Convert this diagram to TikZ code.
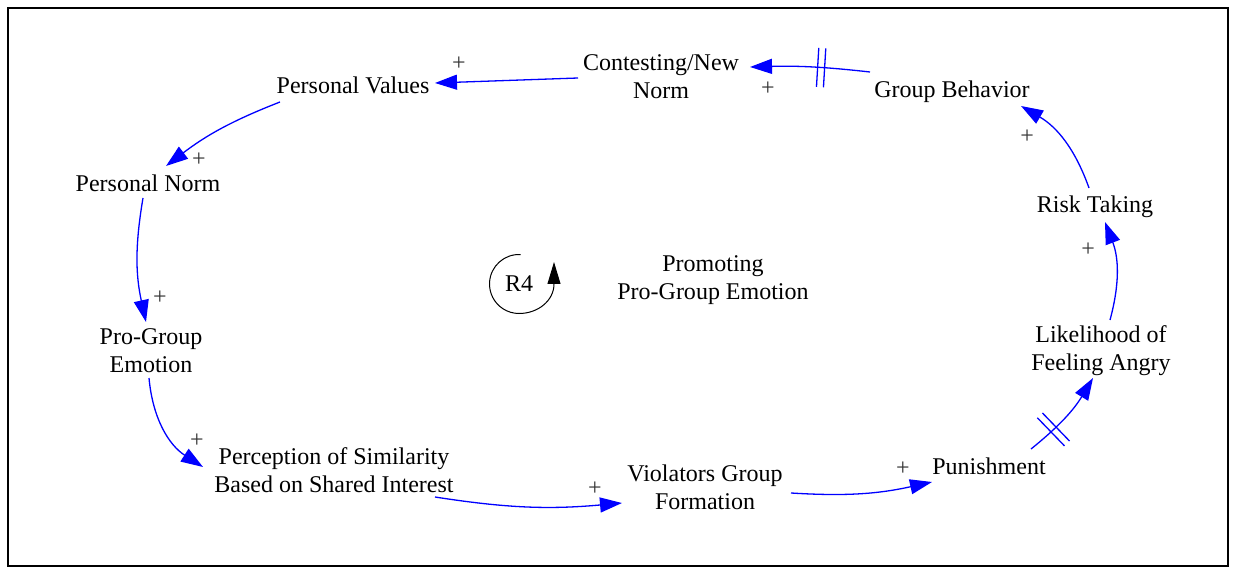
\documentclass[tikz,border=0pt]{standalone}
\usepackage{fontspec}
\setmainfont{Liberation Serif}
\usetikzlibrary{arrows.meta}
\begin{document}
\begin{tikzpicture}[x=0.5pt,y=-0.5pt,
  var/.style={font=\fontsize{12}{14}\selectfont, align=center, inner sep=0pt},
  link/.style={draw=blue, line width=0.65pt, -{Triangle[length=11pt,width=7.5pt]}},
  pol/.style={font=\fontsize{12}{14}\selectfont, text=black!80, inner sep=0pt},
  delaybox/.style={sloped, draw=none, minimum width=3.5pt, minimum height=19.5pt,
    inner sep=0pt, outer sep=0pt},
  delaymark/.style={draw=blue, line width=0.65pt}]
\useasboundingbox (0,0) rectangle (1235,571);
\draw[line width=1pt] (8,8) rectangle (1228,566);

% variables
\node[var] (cn) at (661,77) {Contesting/New\\Norm};
\node[var] (pv) at (353,85) {Personal Values};
\node[var] (gb) at (952,92) {Group Behavior};
\node[var] (pn) at (148,183) {Personal Norm};
\node[var] (rt) at (1095,207) {Risk Taking};
\node[var] (pg) at (151,351) {Pro-Group\\Emotion};
\node[var] (la) at (1101,351) {Likelihood of\\Feeling Angry};
\node[var] (pe) at (334,470) {Perception of Similarity\\Based on Shared Interest};
\node[var] (vg) at (705,487) {Violators Group\\Formation};
\node[var] (pu) at (989,466) {Punishment};

% loop identifier
\node[var] (r4) at (519,284) {R4};
\node[var] (promo) at (713,280) {Promoting\\Pro-Group Emotion};
\draw[line width=0.5pt, -{Triangle[length=11pt,width=6.5pt]}]
  ([shift={(273:29.5)}]r4.center) arc[start angle=273, end angle=90, radius=29.5]
  arc[start angle=90, end angle=0, x radius=35, y radius=29.5] -- ++(0,-22);

% causal links
\draw[link] ([shift={(-82,-20)}]gb.center) to[bend right=4]
  node[delaybox, pos=0.4] (d1) {} ([shift={(89,-10)}]cn.center);
\draw[link] ([shift={(-83,1)}]cn.center) -- ([shift={(82,-2)}]pv.center);
\draw[link] ([shift={(-73,17)}]pv.center) to[bend right=8] ([shift={(18,-17)}]pn.center);
\draw[link] ([shift={(-5,15)}]pn.center) to[bend right=11] ([shift={(-5,-29)}]pg.center);
\draw[link] ([shift={(-2,27)}]pg.center) to[bend right=26] ([shift={(-131,-3)}]pe.center);
\draw[link] ([shift={(101,27)}]pe.center) to[bend right=7] ([shift={(-83,16)}]vg.center);
\draw[link] ([shift={(86,6)}]vg.center) to[bend right=8] ([shift={(-57,16)}]pu.center);
\draw[link] ([shift={(42,-17)}]pu.center) to[bend right=10]
  node[delaybox, pos=0.3] (d2) {} ([shift={(-8,27)}]la.center);
\draw[link] ([shift={(9,-31)}]la.center) to[bend right=18] ([shift={(10,15)}]rt.center);
\draw[link] ([shift={(-6,-19)}]rt.center) to[bend right=20] ([shift={(69,14)}]gb.center);

% delay marks across two links
\draw[delaymark] (d1.north west) -- (d1.south west) (d1.north east) -- (d1.south east);
\draw[delaymark] (d2.north west) -- (d2.south west) (d2.north east) -- (d2.south east);

% polarities
\node[pol] (p1) at (768,89) {+};
\node[pol] (p2) at (459,64) {+};
\node[pol] (p3) at (199,160) {+};
\node[pol] (p4) at (160,298) {+};
\node[pol] (p5) at (197,441) {+};
\node[pol] (p6) at (595,489) {+};
\node[pol] (p7) at (903,469) {+};
\node[pol] (p8) at (1088,250) {+};
\node[pol] (p9) at (1027,137) {+};
\end{tikzpicture}
\end{document}
